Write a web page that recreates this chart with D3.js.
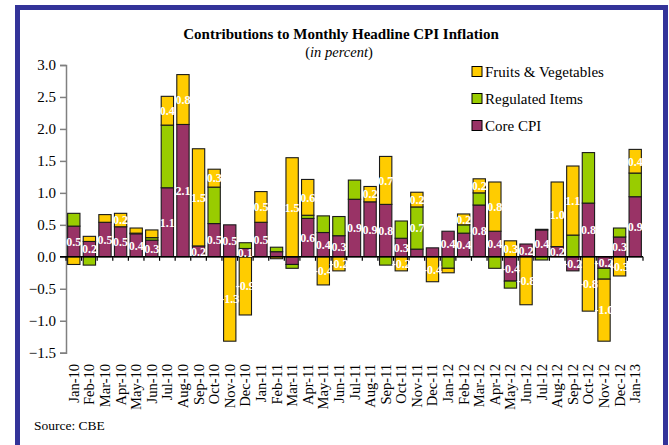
<!DOCTYPE html>
<html>
<head>
<meta charset="utf-8">
<script src="https://cdn.jsdelivr.net/npm/d3@7"></script>
<style>
  html, body { margin: 0; padding: 0; background: #fff; }
  svg { display: block; }
  text { font-family: "Liberation Serif", "Times New Roman", serif; }
</style>
</head>
<body>
<svg id="chart" width="669" height="445"></svg>
<script>
const months = ["Jan-10","Feb-10","Mar-10","Apr-10","May-10","Jun-10","Jul-10","Aug-10","Sep-10","Oct-10","Nov-10","Dec-10",
  "Jan-11","Feb-11","Mar-11","Apr-11","May-11","Jun-11","Jul-11","Aug-11","Sep-11","Oct-11","Nov-11","Dec-11",
  "Jan-12","Feb-12","Mar-12","Apr-12","May-12","Jun-12","Jul-12","Aug-12","Sep-12","Oct-12","Nov-12","Dec-12","Jan-13"];

const coreCPI = [0.48,0.24,0.54,0.47,0.36,0.26,1.08,2.07,0.17,0.52,0.50,0.13,
  0.54,0.08,-0.12,0.60,0.38,0.33,0.90,0.86,0.82,0.29,0.12,0.14,
  0.40,0.37,0.81,0.40,-0.38,0.20,0.42,0.16,-0.22,0.84,-0.18,0.31,0.94];

const regulatedItems = [0.20,-0.13,0,0,0.01,0.04,0.98,0,0,0.57,0,0.09,
  0,0.07,-0.06,0.05,0.26,0.30,0.30,0,-0.13,0.27,0.66,0,
  -0.18,0.13,0.19,-0.18,-0.11,0,-0.05,0,0.34,0.79,-0.17,0.14,0.37];

const fruitsVegetables = [-0.12,0.08,0.12,0.21,0.08,0.12,0.45,0.78,1.52,0.28,-1.32,-0.91,
  0.48,-0.03,1.55,0.56,-0.44,-0.22,0,0.24,0.75,-0.22,0.23,-0.39,
  -0.07,0.17,0.22,0.77,0.25,-0.75,0.01,1.01,1.08,-0.85,-0.97,-0.30,0.37];

// data labels shown on the original (null = no label)
const coreLabels = ["0.5","0.2","0.5","0.5","0.4","0.3","1.1","2.1","0.2","0.5","0.5","0.1",
  "0.5",null,null,"0.6","0.4","0.3","0.9","0.9","0.8","0.3",null,null,
  "0.4","0.4","0.8","0.4","-0.4","0.2","0.4","0.2","-0.2","0.8","-0.2","0.3","0.9"];
const regulatedLabels = [null,null,null,null,null,null,null,null,null,null,null,null,
  null,null,null,null,null,null,null,null,null,null,"0.7",null,
  null,null,null,null,null,null,null,null,null,null,null,null,null];
const fruitsLabels = [null,null,null,"0.2",null,null,"0.4","0.8","1.5","0.3","-1.3","-0.9",
  "0.5",null,"1.5","0.6","-0.4","-0.2",null,"0.2","0.7","-0.2","0.2","-0.4",
  null,"0.2","0.2","0.8","0.3","-0.8",null,"1.0","1.1","-0.8","-1.0","-0.3","0.4"];

const yTicks = [-1.5,-1.0,-0.5,0.0,0.5,1.0,1.5,2.0,2.5,3.0];

const seriesDefs = [
  {key: "core", name: "Core CPI", values: coreCPI, labels: coreLabels, color: "#993366"},
  {key: "reg", name: "Regulated Items", values: regulatedItems, labels: regulatedLabels, color: "#99CC00"},
  {key: "fv", name: "Fruits & Vegetables", values: fruitsVegetables, labels: fruitsLabels, color: "#FFCC00"}
];

const table = months.map((m, i) => {
  const row = {month: m};
  seriesDefs.forEach(s => row[s.key] = s.values[i]);
  return row;
});

const svg = d3.select("#chart");
const W = 669, H = 445;

// frame
svg.append("rect").attr("x", 0).attr("y", 0).attr("width", W).attr("height", H).attr("fill", "#fff");
svg.append("rect").attr("x", 17.5).attr("y", 7.5).attr("width", 648).attr("height", 470)
  .attr("fill", "none").attr("stroke", "#333399").attr("stroke-width", 5);

const plot = {left: 66, right: 643, top: 65, bottom: 352.7};

const x = d3.scaleBand().domain(months).range([plot.left, plot.right])
  .paddingInner(0.21).paddingOuter(0.105);
const y = d3.scaleLinear().domain([-1.5, 3.0]).range([plot.bottom, plot.top]);

// title
svg.append("text").attr("x", 341).attr("y", 38.5).attr("text-anchor", "middle")
  .attr("font-size", 15).attr("font-weight", "bold").attr("fill", "#000")
  .text("Contributions to Monthly Headline CPI Inflation");
svg.append("text").attr("x", 339).attr("y", 56.5).attr("text-anchor", "middle")
  .attr("font-size", 14.5).attr("fill", "#000")
  .html('(<tspan font-style="italic">in percent</tspan>)');

// y axis
const yAxis = d3.axisLeft(y).tickValues(yTicks).tickFormat(d3.format(".1f")).tickSize(6).tickPadding(4);
const gy = svg.append("g").attr("transform", `translate(${plot.left},0)`).call(yAxis);
gy.select(".domain").attr("stroke", "#808080").attr("stroke-width", 1.5);
gy.selectAll(".tick line").attr("stroke", "#808080").attr("stroke-width", 1.5);
gy.selectAll(".tick text").attr("font-size", 15).attr("fill", "#000")
  .attr("font-family", '"Liberation Serif", "Times New Roman", serif');

// x category boundary ticks
const step = x.step();
const boundaries = d3.range(months.length + 1).map(i => plot.left + i * step);
svg.append("g").selectAll("line").data(boundaries).join("line")
  .attr("x1", d => d).attr("x2", d => d)
  .attr("y1", y(0)).attr("y2", y(0) + 4)
  .attr("stroke", "#000").attr("stroke-width", 1.2);

// stacked bars
const stack = d3.stack().keys(seriesDefs.map(s => s.key)).offset(d3.stackOffsetDiverging);
const stacked = stack(table);

const gBars = svg.append("g");
stacked.forEach((layer, si) => {
  const def = seriesDefs[si];
  gBars.append("g").selectAll("rect")
    .data(layer.filter(d => d.data[def.key] !== 0))
    .join("rect")
    .attr("x", d => x(d.data.month))
    .attr("width", x.bandwidth())
    .attr("y", d => y(Math.max(d[0], d[1])))
    .attr("height", d => Math.abs(y(d[0]) - y(d[1])))
    .attr("fill", def.color)
    .attr("stroke", "#1a1a1a")
    .attr("stroke-width", 1.1);
});

// zero line
svg.append("line").attr("x1", plot.left - 6).attr("x2", plot.right)
  .attr("y1", y(0)).attr("y2", y(0)).attr("stroke", "#000").attr("stroke-width", 1.5);

// data labels
const gLab = svg.append("g");
stacked.forEach((layer, si) => {
  const def = seriesDefs[si];
  layer.forEach((d, i) => {
    const lab = def.labels[i];
    if (lab === null) return;
    const cy = (y(d[0]) + y(d[1])) / 2;
    gLab.append("text")
      .attr("x", x(d.data.month) + x.bandwidth() / 2)
      .attr("y", cy + 4.3)
      .attr("text-anchor", "middle")
      .attr("font-size", 12).attr("font-weight", "bold").attr("fill", "#fff")
      .text(lab);
  });
});

// x labels
svg.append("g").selectAll("text").data(months).join("text")
  .attr("transform", d => `translate(${x(d) + x.bandwidth() / 2 + 5},364) rotate(-90)`)
  .attr("text-anchor", "end")
  .attr("font-size", 14.5).attr("fill", "#000")
  .text(d => d);

// legend
const legendItems = [seriesDefs[2], seriesDefs[1], seriesDefs[0]];
const gLeg = svg.append("g");
legendItems.forEach((s, i) => {
  const cy = 72 + i * 27;
  gLeg.append("rect").attr("x", 472).attr("y", cy - 5.5).attr("width", 10).attr("height", 10)
    .attr("fill", s.color).attr("stroke", "#000").attr("stroke-width", 1);
  gLeg.append("text").attr("x", 485).attr("y", cy + 5).attr("font-size", 15).attr("fill", "#000")
    .text(s.name);
});

// source
svg.append("text").attr("x", 34).attr("y", 430).attr("font-size", 13.5).attr("fill", "#000")
  .text("Source: CBE");
</script>
</body>
</html>
